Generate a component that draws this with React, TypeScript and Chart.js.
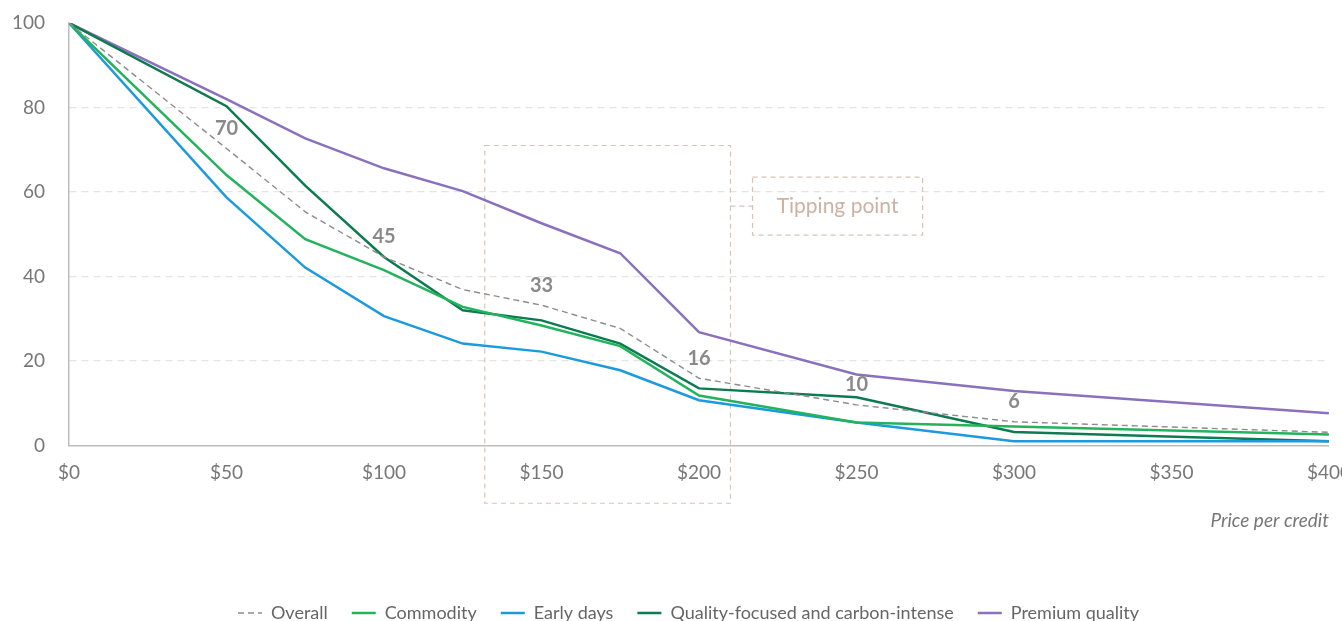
import React, { useEffect, useRef } from "react";
import { Chart, registerables } from "chart.js";

Chart.register(...registerables);

// ---- data ----
const prices = [0, 50, 75, 100, 125, 150, 175, 200, 250, 300, 400];
const overall = [100, 70.3, 55.3, 44.6, 36.9, 33.2, 27.7, 15.9, 9.6, 5.6, 3.1];
const commodity = [100, 64, 48.8, 41.5, 32.8, 28.4, 23.5, 11.8, 5.4, 4.5, 2.6];
const earlyDays = [100, 58.7, 42.1, 30.6, 24.1, 22.2, 17.8, 10.7, 5.4, 1.0, 1.0];
const qualityFocused = [100, 80.3, 61.5, 44.6, 32.0, 29.6, 24.1, 13.5, 11.4, 3.2, 1.0];
const premiumQuality = [100, 82, 72.7, 65.6, 60.2, 52.6, 45.5, 26.8, 16.8, 12.9, 7.6];
const labeledPrices = [50, 100, 150, 200, 250, 300];
const xTickValues = [0, 50, 100, 150, 200, 250, 300, 350, 400];
const yTickValues = [0, 20, 40, 60, 80, 100];
// tipping point annotation (data coordinates)
const tippingBox = { xMin: 132, xMax: 210, yMin: -13.7, yMax: 71 };
const tippingLabelBox = { xMin: 217, xMax: 271, yMin: 49.8, yMax: 63.5 };
const tippingText = "Tipping point";

const FONT = "Lato, 'Open Sans', sans-serif";
const TAN = "#d9c3b5";

const annotationPlugin = {
  id: "tipping",
  beforeDatasetsDraw(chart: any) {
    const { ctx, scales } = chart;
    const x = scales.x, y = scales.y;
    ctx.save();
    ctx.strokeStyle = TAN;
    ctx.lineWidth = 1.2;
    ctx.setLineDash([5, 4]);
    const bx1 = x.getPixelForValue(tippingBox.xMin);
    const bx2 = x.getPixelForValue(tippingBox.xMax);
    const by1 = y.getPixelForValue(tippingBox.yMax);
    const by2 = y.getPixelForValue(tippingBox.yMin);
    ctx.strokeRect(bx1, by1, bx2 - bx1, by2 - by1);
    const lx1 = x.getPixelForValue(tippingLabelBox.xMin);
    const lx2 = x.getPixelForValue(tippingLabelBox.xMax);
    const ly1 = y.getPixelForValue(tippingLabelBox.yMax);
    const ly2 = y.getPixelForValue(tippingLabelBox.yMin);
    ctx.strokeRect(lx1, ly1, lx2 - lx1, ly2 - ly1);
    const cy = (ly1 + ly2) / 2;
    ctx.beginPath();
    ctx.moveTo(bx2, cy);
    ctx.lineTo(lx1, cy);
    ctx.stroke();
    ctx.setLineDash([]);
    ctx.fillStyle = "#cdb2a3";
    ctx.font = `21px ${FONT}`;
    ctx.textAlign = "center";
    ctx.textBaseline = "middle";
    ctx.fillText(tippingText, (lx1 + lx2) / 2, cy);
    ctx.restore();
  },
};

const valueLabelPlugin = {
  id: "valueLabels",
  afterDatasetsDraw(chart: any) {
    const { ctx } = chart;
    const meta = chart.getDatasetMeta(0);
    ctx.save();
    ctx.fillStyle = "#8a8a8a";
    ctx.font = `bold 20px ${FONT}`;
    ctx.textAlign = "center";
    ctx.textBaseline = "middle";
    prices.forEach((p, i) => {
      if (!labeledPrices.includes(p)) return;
      const pt = meta.data[i];
      ctx.fillText(String(Math.round(overall[i])), pt.x, pt.y - 20);
    });
    ctx.restore();
  },
};

function toXY(values: number[]) {
  return values.map((v, i) => ({ x: prices[i], y: v }));
}

export default function App() {
  const ref = useRef<HTMLCanvasElement>(null);
  useEffect(() => {
    document.body.style.margin = "0";
    document.body.style.overflow = "hidden";
    Chart.defaults.font.family = FONT;
    const chart = new Chart(ref.current!, {
      type: "line",
      data: {
        datasets: [
          { label: "Overall", data: toXY(overall), borderColor: "#8c8c8c", borderWidth: 1.4, borderDash: [6, 4], pointRadius: 0, tension: 0 },
          { label: "Commodity", data: toXY(commodity), borderColor: "#22b35c", borderWidth: 2.5, pointRadius: 0 },
          { label: "Early days", data: toXY(earlyDays), borderColor: "#1c9ade", borderWidth: 2.5, pointRadius: 0 },
          { label: "Quality-focused and carbon-intense", data: toXY(qualityFocused), borderColor: "#0d7a50", borderWidth: 2.5, pointRadius: 0 },
          { label: "Premium quality", data: toXY(premiumQuality), borderColor: "#8a70bd", borderWidth: 2.5, pointRadius: 0 },
        ],
      },
      options: {
        responsive: true,
        maintainAspectRatio: false,
        animation: false,
        layout: { padding: { left: 10, top: 23, right: 0, bottom: 0 } },
        scales: {
          x: {
            type: "linear",
            min: 0,
            max: 400,
            afterBuildTicks: (s: any) => { s.ticks = xTickValues.map((v) => ({ value: v })); },
            ticks: { callback: (v: any) => "$" + v, color: "#777", font: { size: 19 }, padding: 16, maxRotation: 0, autoSkip: false },
            grid: { display: false, drawTicks: false },
            border: { color: "#bdbdbd", width: 1.5 },
            title: { display: true, text: "Price per credit", align: "end", color: "#777", font: { size: 19, style: "italic" }, padding: { top: 9, bottom: 48 } },
          },
          y: {
            min: 0,
            max: 100,
            afterBuildTicks: (s: any) => { s.ticks = yTickValues.map((v) => ({ value: v })); },
            afterFit: (s: any) => { s.width = 59; },
            ticks: { color: "#777", font: { size: 19 }, padding: 2 },
            grid: {
              drawTicks: true,
              tickLength: 22,
              tickColor: "rgba(0,0,0,0)",
              color: (c: any) => (c.tick && (c.tick.value === 0 || c.tick.value === 100) ? "rgba(0,0,0,0)" : "#e4e4e4"),
              lineWidth: 1.2,
            },
            border: { color: "#bdbdbd", width: 1.5, dash: [7, 5] },
          },
        },
        plugins: {
          legend: {
            position: "bottom",
            labels: {
              usePointStyle: true,
              pointStyleWidth: 24,
              color: "#666",
              font: { size: 18 },
              padding: 24,
              generateLabels: (chart: any) =>
                chart.data.datasets.map((ds: any, i: number) => ({
                  text: ds.label,
                  fillStyle: ds.borderColor,
                  strokeStyle: ds.borderColor,
                  fontColor: "#666",
                  lineWidth: ds.borderWidth,
                  lineDash: ds.borderDash || [],
                  pointStyle: "line",
                  hidden: false,
                  datasetIndex: i,
                })),
            },
          },
          tooltip: { enabled: false },
        },
      },
      plugins: [annotationPlugin, valueLabelPlugin],
    } as any);
    return () => chart.destroy();
  }, []);
  return (
    <div style={{ position: "fixed", left: 0, top: 0, width: "100vw", height: "100vh", overflow: "hidden" }}>
      <div style={{ position: "relative", width: 1367, height: 632 }}>
        <canvas ref={ref} />
      </div>
    </div>
  );
}
